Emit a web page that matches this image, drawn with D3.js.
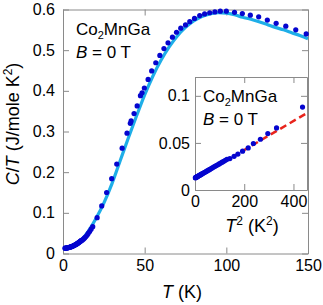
<!DOCTYPE html>
<html>
<head>
<meta charset="utf-8">
<script src="https://cdn.jsdelivr.net/npm/d3@7"></script>
<style>
  body { margin: 0; background: #fff; }
  svg { display: block; font-family: "Liberation Sans", Arial, sans-serif; }
  .tick text { font-size: 16px; fill: #000; }
</style>
</head>
<body>
<svg id="chart" width="323" height="305"></svg>
<script>
// measured points: temperature (K) and C/T (J/mole K^2)
const tempK = [1.2, 1.5, 1.8, 2.1, 2.4, 2.7, 3.0, 3.3, 3.6, 3.9, 4.2, 4.5, 4.8, 5.1, 5.4, 5.7, 6.0, 6.3, 6.6, 6.9,
  7.2, 7.5, 7.8, 8.1, 8.4, 8.7, 9.0, 9.3, 9.6, 9.9, 10.2, 10.5, 10.8, 11.1, 11.4,
  11.9, 12.6, 13.2, 13.9, 14.7, 15.4, 16.3, 17.2, 18.2, 20.9,
  23.7, 26.7, 29.8, 32.9, 36.2, 39.2, 41.2, 41.7, 43.5, 45.4, 47.4, 48.4, 49.8,
  52.1, 54.3, 56.8, 59.3, 61.8, 64.3, 67.0, 69.5, 72.1, 75.0, 77.6, 80.5, 83.7, 86.7, 89.8, 93.0, 96.3, 100.0,
  105.0, 109.8, 114.7, 119.8, 125.1, 130.5, 136.4, 142.5, 148.9];
const cOverT = [0.0130, 0.0131, 0.0133, 0.0135, 0.0137, 0.0139, 0.0142, 0.0145, 0.0148, 0.0151, 0.0155, 0.0159, 0.0163, 0.0168, 0.0172, 0.0177, 0.0183, 0.0188, 0.0194, 0.0200,
  0.0207, 0.0213, 0.0220, 0.0228, 0.0235, 0.0243, 0.0251, 0.0259, 0.0268, 0.0277, 0.0286, 0.0296, 0.0305, 0.0315, 0.0326,
  0.0334, 0.0358, 0.0382, 0.0412, 0.0447, 0.0494, 0.0539, 0.0599, 0.0659, 0.0881,
  0.117, 0.150, 0.184, 0.220, 0.259, 0.296, 0.320, 0.326, 0.344, 0.363, 0.388, 0.395, 0.407,
  0.428, 0.449, 0.469, 0.487, 0.504, 0.518, 0.532, 0.544, 0.554, 0.562, 0.570, 0.578, 0.585, 0.589, 0.592, 0.594, 0.596, 0.596,
  0.593, 0.590, 0.586, 0.582, 0.574, 0.566, 0.559, 0.550, 0.540];

// model curve (light blue)
const fitT = [0, 5, 10, 15, 20, 25, 30, 35, 40, 45, 50, 55, 60, 65, 70, 75, 80, 85, 90, 95, 100,
  105, 110, 115, 120, 125, 130, 135, 140, 145, 150];
const fitCT = [0.012, 0.016, 0.028, 0.052, 0.085, 0.124, 0.172, 0.228, 0.284, 0.338, 0.390, 0.436, 0.475, 0.508, 0.535, 0.556, 0.572, 0.583, 0.589, 0.592, 0.591,
  0.587, 0.581, 0.576, 0.570, 0.563, 0.556, 0.550, 0.543, 0.536, 0.528];

// linear fit in the inset, C/T vs T^2
const lineT2 = [0, 450];
const lineCT = [0.0115, 0.081];

const xTicks = [0, 50, 100, 150];
const yTicks = [0, 0.1, 0.2, 0.3, 0.4, 0.5, 0.6];
const insetXTicks = [0, 200, 400];
const insetYTicks = [0, 0.05, 0.1];

const dotColor = "#0505cf";
const fitColor = "#1eaee8";
const lineColor = "#e8241c";
const axisColor = "#8a8a8a";

const svg = d3.select("#chart");

const points = tempK.map((t, i) => ({ t: t, t2: t * t, c: cOverT[i] }));
const fit = fitT.map((t, i) => ({ t: t, c: fitCT[i] }));
const lin = lineT2.map((t2, i) => ({ t2: t2, c: lineCT[i] }));

var x = d3.scaleLinear().domain([0, 150]).range([63, 308]);
var y = d3.scaleLinear().domain([0, 0.6]).range([253.5, 9.5]);

var xi = d3.scaleLinear().domain([0, 455]).range([195, 307]);
var yi = d3.scaleLinear().domain([0, 0.12]).range([190, 77]);

// box of four axes, ticks pointing inward, labels on left and bottom only
function frame(g, xs, ys, xt, yt, padLeft) {
  const fmt = d3.format("~g");
  g.append("g")
    .attr("transform", "translate(0," + ys.range()[0] + ")")
    .call(d3.axisBottom(xs).tickValues(xt).tickSize(-6).tickSizeOuter(0).tickPadding(6).tickFormat(fmt));
  g.append("g")
    .attr("transform", "translate(0," + ys.range()[1] + ")")
    .call(d3.axisTop(xs).tickValues(xt).tickSize(-6).tickSizeOuter(0).tickFormat(""));
  g.append("g")
    .attr("transform", "translate(" + xs.range()[0] + ",0)")
    .call(d3.axisLeft(ys).tickValues(yt).tickSize(-6).tickSizeOuter(0).tickPadding(padLeft).tickFormat(fmt));
  g.append("g")
    .attr("transform", "translate(" + xs.range()[1] + ",0)")
    .call(d3.axisRight(ys).tickValues(yt).tickSize(-6).tickSizeOuter(0).tickFormat(""));
  g.selectAll(".domain, .tick line").attr("stroke", axisColor);
  g.selectAll("g").attr("font-family", null).attr("font-size", null);
}

// main panel
const main = svg.append("g");
frame(main, x, y, xTicks, yTicks, 8);

main.append("path")
  .datum(fit)
  .attr("fill", "none")
  .attr("stroke", fitColor)
  .attr("stroke-width", 3.2)
  .attr("d", d3.line().x(d => x(d.t)).y(d => y(d.c)).curve(d3.curveMonotoneX));

main.append("g")
  .selectAll("circle")
  .data(points)
  .join("circle")
  .attr("cx", d => x(d.t))
  .attr("cy", d => y(d.c))
  .attr("r", 2.6)
  .attr("fill", dotColor);

function sampleLabel(g, px, py) {
  const t1 = g.append("text").attr("x", px).attr("y", py).attr("font-size", 17);
  t1.append("tspan").text("Co");
  t1.append("tspan").attr("font-size", 11).attr("dy", 4).text("2");
  t1.append("tspan").attr("dy", -4).text("MnGa");
  const t2 = g.append("text").attr("x", px).attr("y", py + 23).attr("font-size", 17);
  t2.append("tspan").attr("font-style", "italic").text("B");
  t2.append("tspan").text(" = 0 T");
}
sampleLabel(main, 76, 35);

// axis titles
const yt = svg.append("text")
  .attr("transform", "translate(19,124) rotate(-90)")
  .attr("text-anchor", "middle")
  .attr("font-size", 18);
yt.append("tspan").attr("font-style", "italic").text("C");
yt.append("tspan").text("/");
yt.append("tspan").attr("font-style", "italic").text("T");
yt.append("tspan").text(" (J/mole K");
yt.append("tspan").attr("font-size", 12).attr("dy", -7).text("2");
yt.append("tspan").attr("dy", 7).text(")");

const xt = svg.append("text")
  .attr("x", 182).attr("y", 298)
  .attr("text-anchor", "middle")
  .attr("font-size", 18);
xt.append("tspan").attr("font-style", "italic").text("T");
xt.append("tspan").text(" (K)");

// inset panel
const inset = svg.append("g");
inset.append("rect")
  .attr("x", xi.range()[0]).attr("y", yi.range()[1])
  .attr("width", xi.range()[1] - xi.range()[0])
  .attr("height", yi.range()[0] - yi.range()[1])
  .attr("fill", "#fff");
frame(inset, xi, yi, insetXTicks, insetYTicks, 5);

inset.append("path")
  .datum(lin)
  .attr("fill", "none")
  .attr("stroke", lineColor)
  .attr("stroke-width", 2.5)
  .attr("stroke-dasharray", "7,4")
  .attr("d", d3.line().x(d => xi(d.t2)).y(d => yi(d.c)));

inset.append("g")
  .selectAll("circle")
  .data(points.filter(d => d.t2 <= 450))
  .join("circle")
  .attr("cx", d => xi(d.t2))
  .attr("cy", d => yi(d.c))
  .attr("r", 2.6)
  .attr("fill", dotColor);

sampleLabel(inset, 203, 102);

const it = svg.append("text")
  .attr("x", 252).attr("y", 232)
  .attr("text-anchor", "middle")
  .attr("font-size", 18);
it.append("tspan").attr("font-style", "italic").text("T");
it.append("tspan").attr("font-size", 12).attr("dy", -7).text("2");
it.append("tspan").attr("dy", 7).text(" (K");
it.append("tspan").attr("font-size", 12).attr("dy", -7).text("2");
it.append("tspan").attr("dy", 7).text(")");
</script>
</body>
</html>
